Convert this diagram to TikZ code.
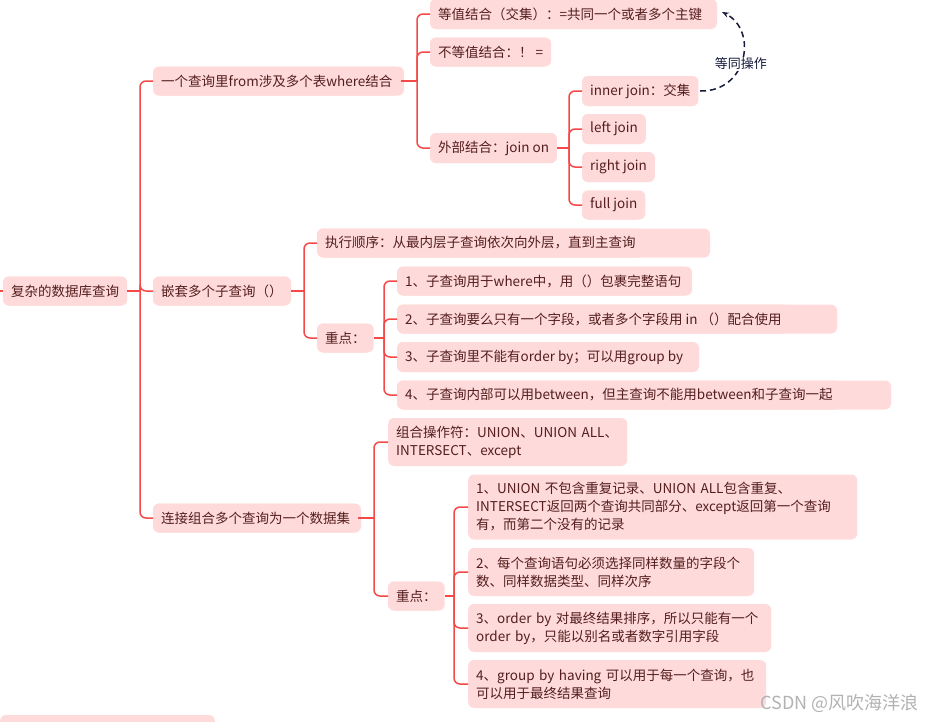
\documentclass[tikz,border=0pt]{standalone}
\usepackage{fontspec}
\setmainfont{Noto Sans CJK SC}
\usetikzlibrary{arrows.meta}
\definecolor{boxpink}{RGB}{255,218,218}
\definecolor{ink}{RGB}{84,30,30}
\definecolor{linered}{RGB}{245,72,72}
\definecolor{navy}{RGB}{22,26,60}
\tikzset{
  topic/.style={fill=boxpink, text=ink, rounded corners=6pt, anchor=west, align=left,
    inner xsep=8pt, inner ysep=0pt, font=\fontsize{13.5}{18}\selectfont},
  branch/.style={draw=linered, line width=1.5pt, rounded corners=6pt},
  same/.style={draw=navy, line width=1.5pt, dash pattern=on 6pt off 4pt, -{Stealth[length=7pt]}},
}
% one line: a pad of the given width behind, the node grows if its text is longer
\newcommand{\topicbox}[6]{%
  \fill[boxpink, rounded corners=6pt] (#2,#3-#5/2) rectangle (#2+#4,#3+#5/2);
  \coordinate (#1-e) at (#2+#4,#3);
  \node[topic, minimum height=#5pt] (#1) at (#2,#3) {#6};}
% several lines, broken by hand
\newcommand{\topicpar}[6]{\node[topic, text width=#4pt-16pt, minimum height=#5pt] (#1) at (#2,#3) {#6};}
\begin{document}
\begin{tikzpicture}[x=1pt, y=-1pt]
  \useasboundingbox (0,0) rectangle (937,721);
  % level 0 and 1
  \topicbox{root}{3}{291}{124}{29}{复杂的数据库查询}
  \topicbox{join}{153}{81}{251}{29}{一个查询里from涉及多个表where结合}
  \topicbox{nest}{153}{291}{138}{29}{嵌套多个子查询（）}
  \topicbox{union}{153}{518}{208}{29}{连接组合多个查询为一个数据集}
  % joins
  \topicbox{eq}{430}{14}{287}{30}{等值结合（交集）：=共同一个或者多个主键}
  \topicbox{neq}{430}{52}{119}{29}{不等值结合：！ =}
  \topicbox{outer}{430}{148}{126}{30}{外部结合：join on}
  \topicbox{inner}{582}{91}{114}{30}{inner join：交集}
  \topicbox{left}{582}{129}{62}{30}{left join}
  \topicbox{right}{582}{167}{69}{30}{right join}
  \topicbox{full}{582}{205}{60}{29}{full join}
  % subqueries
  \topicbox{order}{317}{243}{393}{29}{执行顺序：从最内层子查询依次向外层，直到主查询}
  \topicbox{keyA}{317}{338}{54}{29}{重点：}
  \topicbox{k1}{397}{281}{295}{29}{1、子查询用于where中，用（）包裹完整语句}
  \topicbox{k2}{397}{319}{440}{29}{2、子查询要么只有一个字段，或者多个字段用 in （）配合使用}
  \topicbox{k3}{397}{357}{302}{30}{3、子查询里不能有order by；可以用group by}
  \topicbox{k4}{397}{395}{494}{29}{4、子查询内部可以用between，但主查询不能用between和子查询一起}
  % union
  \topicpar{ops}{388}{442}{239}{48}{组合操作符：UNION、UNION ALL、\\INTERSECT、except}
  \topicbox{keyB}{388}{596}{53}{29}{重点：}
  \topicpar{u1}{468}{507}{389}{65}{1、UNION 不包含重复记录、UNION ALL包含重复、\\INTERSECT返回两个查询共同部分、except返回第一个查询\\有，而第二个没有的记录}
  \topicpar{u2}{468}{572}{286}{48}{2、每个查询语句必须选择同样数量的字段个\\数、同样数据类型、同样次序}
  \topicpar{u3}{468}{628}{303}{48}{3、order by 对最终结果排序，所以只能有一个\\order by，只能以别名或者数字引用字段}
  \topicpar{u4}{468}{684}{298}{48}{4、group by having 可以用于每一个查询，也\\可以用于最终结果查询}
  % cut-off box at the bottom
  \fill[boxpink, rounded corners=6pt] (0,715) rectangle (215,735);
  % connectors
  \coordinate (in) at (0,291);
  \draw[branch] (in) -- (root.west);
  \foreach \p/\x in {root/140,join/417,outer/569,nest/304,keyA/384,union/374,keyB/454}
    \draw[branch] (\p.east) -- (\x,0 |- \p.east) coordinate (\p-v);
  \foreach \p/\c in {root/join,root/nest,root/union,join/eq,join/neq,join/outer,
                     outer/inner,outer/left,outer/right,outer/full,nest/order,nest/keyA,
                     keyA/k1,keyA/k2,keyA/k3,keyA/k4,union/ops,union/keyB,
                     keyB/u1,keyB/u2,keyB/u3,keyB/u4}
    \draw[branch] (\p-v) |- (\c.west);
  % same operation
  \draw[same] ([xshift=4pt]inner-e) .. controls (748,92) and (758,30) .. ([xshift=5pt,yshift=2pt]eq-e)
    node[pos=0.45, fill=white, inner sep=1pt, text=navy, font=\fontsize{13}{15}\selectfont] (lbl) {等同操作};
  \node[anchor=east, text=gray!60, font=\fontsize{18}{20}\selectfont] (mark) at (922,703) {CSDN @风吹海洋浪};
\end{tikzpicture}
\end{document}
